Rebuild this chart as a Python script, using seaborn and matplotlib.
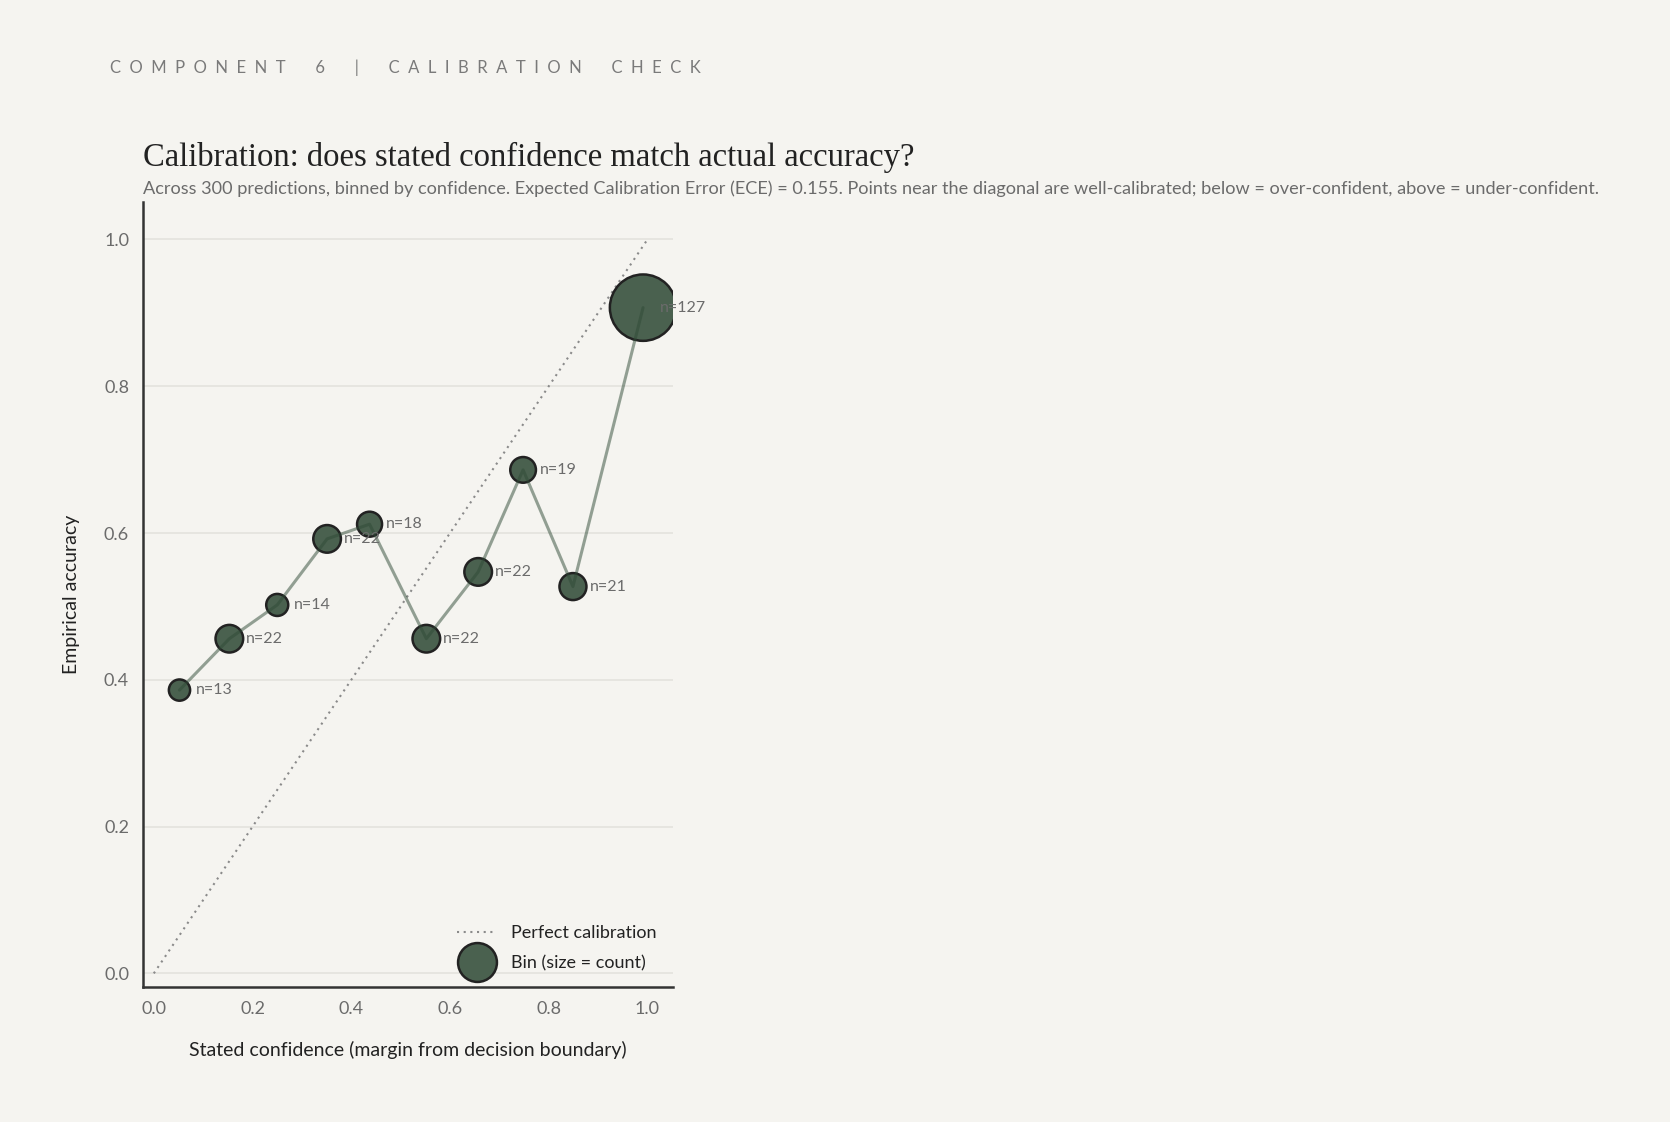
import numpy as np
import pandas as pd
import matplotlib.pyplot as plt
import seaborn as sns
from matplotlib.lines import Line2D

# calibration bins
confidence = [0.052, 0.153, 0.250, 0.351, 0.437, 0.552, 0.657, 0.748, 0.849, 0.991]
accuracy = [0.386, 0.456, 0.502, 0.592, 0.612, 0.456, 0.547, 0.686, 0.527, 0.907]
counts = [13, 22, 14, 22, 18, 22, 22, 19, 21, 127]
x_ticks = [0.0, 0.2, 0.4, 0.6, 0.8, 1.0]
y_ticks = [0.0, 0.2, 0.4, 0.6, 0.8, 1.0]

BG = "#f5f4f0"
GREEN = "#4a614f"
BODY = ["Lato", "DejaVu Sans"]

sns.set_theme(style="white")
plt.rcParams["font.family"] = BODY

df = pd.DataFrame({"conf": confidence, "acc": accuracy, "n": counts})

fig = plt.figure(figsize=(16.7, 11.22), dpi=100, facecolor=BG)
ax = fig.add_axes([0.0856, 0.120, 0.3175, 0.700])
ax.set_facecolor(BG)

# perfect calibration diagonal
ax.plot([0, 1], [0, 1], linestyle=(0, (1, 2.2)), color="#8a8a8a", lw=1.5, zorder=1)

# bins, marker area proportional to count
sns.scatterplot(data=df, x="conf", y="acc", size="n",
                sizes=(min(counts) * 18, max(counts) * 18),
                size_norm=(min(counts), max(counts)),
                color=GREEN, edgecolor="#222222", linewidth=1.8,
                legend=False, ax=ax, zorder=3)
sns.lineplot(data=df, x="conf", y="acc", color="#2f4a36", alpha=0.5,
             lw=2.2, ax=ax, zorder=4)

for c, a, n in zip(confidence, accuracy, counts):
    ax.annotate(f"n={n}", (c, a), xytext=(12, 0), textcoords="offset points",
                ha="left", va="center", fontsize=11.5, color="#6b6b6b", zorder=5)

ax.set_xlim(-0.022, 1.052)
ax.set_ylim(-0.019, 1.051)
ax.set_xticks(x_ticks)
ax.set_yticks(y_ticks)
ax.set_xticklabels([f"{t:.1f}" for t in x_ticks])
ax.set_yticklabels([f"{t:.1f}" for t in y_ticks])
ax.tick_params(axis="both", length=0, labelsize=13, labelcolor="#6b6b6b", pad=10)
ax.yaxis.grid(True, color="#e2e1dc", lw=1.1)
ax.xaxis.grid(False)
ax.set_axisbelow(True)
for side in ["top", "right"]:
    ax.spines[side].set_visible(False)
for side in ["left", "bottom"]:
    ax.spines[side].set_color("#333333")
    ax.spines[side].set_linewidth(1.8)

ax.set_xlabel("Stated confidence (margin from decision boundary)", fontsize=14,
              color="#222222", labelpad=17)
ax.set_ylabel("Empirical accuracy", fontsize=14, color="#222222", labelpad=17)

handles = [
    Line2D([], [], linestyle=(0, (1, 2.2)), color="#8a8a8a", lw=1.5),
    Line2D([], [], linestyle="none", marker="o", markersize=28,
           markerfacecolor=GREEN, markeredgecolor="#222222", markeredgewidth=1.8),
]
ax.legend(handles, ["Perfect calibration", "Bin (size = count)"], loc="lower right",
          frameon=False, fontsize=13, labelcolor="#222222", handlelength=2.2,
          borderaxespad=0.5, labelspacing=0.75)

header = "       ".join("  ".join(word) for word in ["COMPONENT", "6", "|", "CALIBRATION", "CHECK"])
fig.text(0.066, 0.940, header, fontsize=12, color="#7a7a7a", va="center", ha="left")
fig.text(0.0856, 0.860, "Calibration: does stated confidence match actual accuracy?",
         fontsize=23.5, color="#222222", va="center", ha="left",
         family=["Liberation Serif", "DejaVu Serif"])
fig.text(0.0856, 0.832,
         "Across 300 predictions, binned by confidence. Expected Calibration Error (ECE) = 0.155. "
         "Points near the diagonal are well-calibrated; below = over-confident, above = under-confident.",
         fontsize=13.1, color="#6b6b6b", va="center", ha="left")

fig.savefig("out.png", dpi=100, facecolor=BG)
